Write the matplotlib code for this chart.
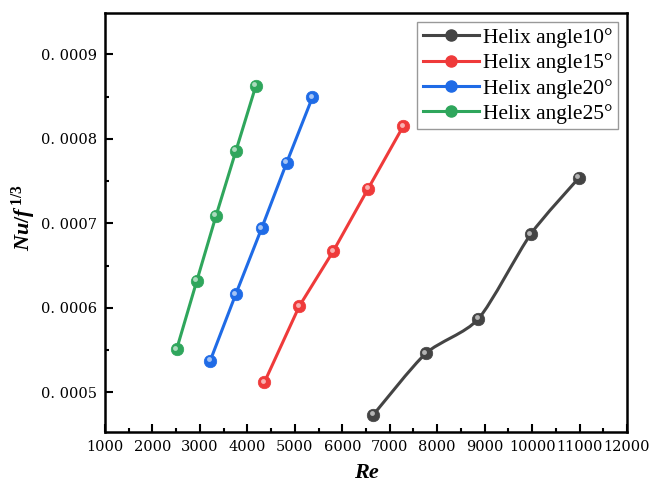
import matplotlib
matplotlib.use('Agg')

import numpy as np
import matplotlib.pyplot as plt
import matplotlib.ticker as ticker
import matplotlib.transforms as mtransforms
from matplotlib.path import Path
from matplotlib.patches import PathPatch
from matplotlib.lines import Line2D

plt.rcParams['font.family'] = ['Liberation Serif', 'DejaVu Serif']
plt.rcParams['mathtext.fontset'] = 'custom'
plt.rcParams['mathtext.rm'] = 'Liberation Serif:bold'
plt.rcParams['mathtext.it'] = 'Liberation Serif:bold:italic'

# data
re_10 = [6650, 7760, 8870, 9970, 10990]
nu_10 = [0.000473, 0.000546, 0.000587, 0.000687, 0.000754]
re_15 = [4360, 5095, 5810, 6545, 7285]
nu_15 = [0.000512, 0.000602, 0.000667, 0.000741, 0.000815]
re_20 = [3215, 3755, 4300, 4830, 5370]
nu_20 = [0.000537, 0.000616, 0.000694, 0.000772, 0.000849]
re_25 = [2510, 2935, 3340, 3760, 4180]
nu_25 = [0.000551, 0.000632, 0.000709, 0.000786, 0.000863]

labels = ['Helix angle10°', 'Helix angle15°', 'Helix angle20°', 'Helix angle25°']
colors = ['#444444', '#ef3a3a', '#1f6be6', '#2fa65c']
smooth = [True, False, False, False]

x_ticks = list(range(1000, 12001, 1000))
y_ticks = [0.0005, 0.0006, 0.0007, 0.0008, 0.0009]


def smooth_path(x, y, k=8.0):
    # gentle cardinal spline through the points, as cubic bezier pieces
    pts = np.column_stack([x, y]).astype(float)
    p = np.vstack([pts[0], pts, pts[-1]])
    verts = [pts[0]]
    codes = [Path.MOVETO]
    for i in range(1, len(p) - 2):
        c1 = p[i] + (p[i + 1] - p[i - 1]) / k
        c2 = p[i + 1] - (p[i + 2] - p[i]) / k
        verts += [c1, c2, p[i + 1]]
        codes += [Path.CURVE4] * 3
    return Path(verts, codes)


def lighten(c, f):
    rgb = np.array(matplotlib.colors.to_rgb(c))
    return tuple(rgb + (1 - rgb) * f)


fig = plt.figure(figsize=(6.51, 4.88), dpi=100)
ax = fig.add_axes([0.1613, 0.1148, 0.8018, 0.8586])

hl = mtransforms.offset_copy(ax.transData, fig=fig, x=-1.6, y=1.6, units='dots')

series = [(re_10, nu_10), (re_15, nu_15), (re_20, nu_20), (re_25, nu_25)]
handles = []
for (xs, ys), lab, col, sm in zip(series, labels, colors, smooth):
    if sm:
        ax.add_patch(PathPatch(smooth_path(xs, ys), fill=False, edgecolor=col,
                               lw=2.2, zorder=2))
    else:
        ax.plot(xs, ys, color=col, lw=2.2, zorder=2)
    ax.plot(xs, ys, ls='none', marker='o', ms=9, mfc=col, mec=col, mew=0.5, zorder=3)
    ax.plot(xs, ys, ls='none', marker='o', ms=3.5, mfc=lighten(col, 0.6), mec='none',
            transform=hl, zorder=4)
    handles.append(Line2D([], [], color=col, lw=2.2, marker='o', ms=8, mfc=col, mec=col))

ax.set_xlim(1000, 12000)
ax.set_ylim(0.000453, 0.000949)
ax.set_xticks(x_ticks)
ax.set_yticks(y_ticks)
ax.xaxis.set_minor_locator(ticker.MultipleLocator(500))
ax.yaxis.set_minor_locator(ticker.MultipleLocator(0.00005))
ax.yaxis.set_major_formatter(ticker.FuncFormatter(lambda v, p: '{:.4f}'.format(v).replace('.', '. ')))

ax.tick_params(which='major', direction='in', length=6, width=1.5, pad=6)
ax.tick_params(which='minor', direction='in', length=3, width=1.5)
for t in ax.get_xticklabels() + ax.get_yticklabels():
    t.set_fontfamily('DejaVu Serif')
    t.set_fontsize(10.5)
for s in ax.spines.values():
    s.set_linewidth(1.8)

ax.set_xlabel('Re', fontsize=16, fontweight='bold', style='italic', labelpad=6)
ax.set_ylabel(r'$Nu/f^{\,1/3}$', fontsize=16)
ax.yaxis.set_label_coords(-0.128, 0.513)

leg = ax.legend(handles, labels, loc='upper right', bbox_to_anchor=(0.983, 0.978),
                borderaxespad=0, fontsize=15.5, frameon=True, fancybox=False,
                edgecolor='#808080', handlelength=2.6, handletextpad=0.2,
                labelspacing=0.25, borderpad=0.25)
leg.get_frame().set_linewidth(1.0)

fig.savefig('out.png', dpi=100)
